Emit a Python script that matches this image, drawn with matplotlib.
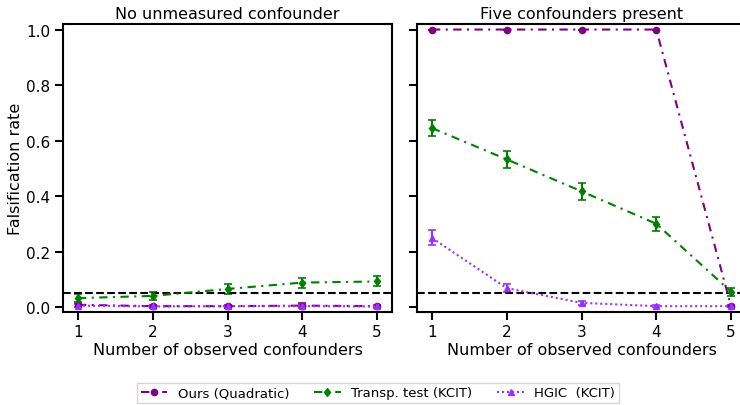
import matplotlib
matplotlib.use("Agg")
import matplotlib.pyplot as plt
from matplotlib.lines import Line2D

x = [1, 2, 3, 4, 5]

# Left panel: no unmeasured confounder
ours_left = [0.008, 0.003, 0.003, 0.005, 0.003]
ours_left_err = [0.008, 0.005, 0.005, 0.008, 0.005]
transp_left = [0.032, 0.040, 0.065, 0.088, 0.092]
transp_left_err = [0.015, 0.015, 0.017, 0.018, 0.018]
hgic_left = [0.005, 0.002, 0.003, 0.003, 0.002]
hgic_left_err = [0.006, 0.004, 0.004, 0.005, 0.004]

# Right panel: five confounders present
ours_right = [1.0, 1.0, 1.0, 1.0, 0.003]
ours_right_err = [0.0, 0.0, 0.0, 0.0, 0.004]
transp_right = [0.645, 0.532, 0.417, 0.300, 0.055]
transp_right_err = [0.030, 0.030, 0.030, 0.025, 0.015]
hgic_right = [0.249, 0.068, 0.015, 0.003, 0.003]
hgic_right_err = [0.027, 0.015, 0.007, 0.004, 0.004]

alpha_level = 0.05
titles = ["No unmeasured confounder", "Five confounders present"]
labels = ["Ours (Quadratic)", "Transp. test (KCIT)", "HGIC  (KCIT)"]
colors = ["#800080", "#008000", "#9b30ff"]
markers = ["o", "d", "^"]
styles = [(0, (4, 2.6, 1, 2.6)), (0, (4, 2.6, 1, 2.6)), (0, (1, 1.4))]

plt.rcParams['font.family'] = ['DejaVu Sans']

fig = plt.figure(figsize=(7.4, 4.06), dpi=100)
W, H = 740, 406
axL = fig.add_axes([63 / W, (H - 313) / H, 329 / W, 288 / H])
axR = fig.add_axes([417 / W, (H - 313) / H, 329 / W, 288 / H], sharey=axL)

panels = [
    (axL, [ours_left, transp_left, hgic_left], [ours_left_err, transp_left_err, hgic_left_err]),
    (axR, [ours_right, transp_right, hgic_right], [ours_right_err, transp_right_err, hgic_right_err]),
]

for i, (ax, ys, es) in enumerate(panels):
    for j in range(3):
        ax.errorbar(x, ys[j], yerr=es[j], color=colors[j], marker=markers[j],
                    linestyle=styles[j], linewidth=1.5, markersize=4.5,
                    capsize=3, elinewidth=1.5, capthick=1.2, label=labels[j])
    ax.axhline(alpha_level, color="black", linestyle="--", linewidth=1.5)
    ax.set_title(titles[i], fontsize=11.5, pad=4)
    ax.set_xlabel("Number of observed confounders", fontsize=11.5, labelpad=2)
    ax.set_xticks(x)
    ax.set_xlim(0.8, 5.2)
    ax.set_ylim(-0.018, 1.02)
    ax.set_yticks([0.0, 0.2, 0.4, 0.6, 0.8, 1.0])
    ax.tick_params(axis="both", which="major", length=6, width=1.5, labelsize=11, pad=3)
    for s in ax.spines.values():
        s.set_linewidth(1.5)

axL.set_ylabel("Falsification rate", fontsize=11.5, labelpad=2)
plt.setp(axR.get_yticklabels(), visible=False)

handles = [Line2D([], [], color=colors[j], marker=markers[j], linestyle=styles[j],
                  linewidth=1.5, markersize=4.5) for j in range(3)]
fig.legend(handles=handles, labels=labels, loc="center", bbox_to_anchor=(378 / W, (H - 394) / H),
           ncol=3, fontsize=9.5, frameon=True, fancybox=False, edgecolor="#cccccc",
           columnspacing=1.9, handlelength=2.0, borderpad=0.3)

fig.savefig("out.png", dpi=100)
